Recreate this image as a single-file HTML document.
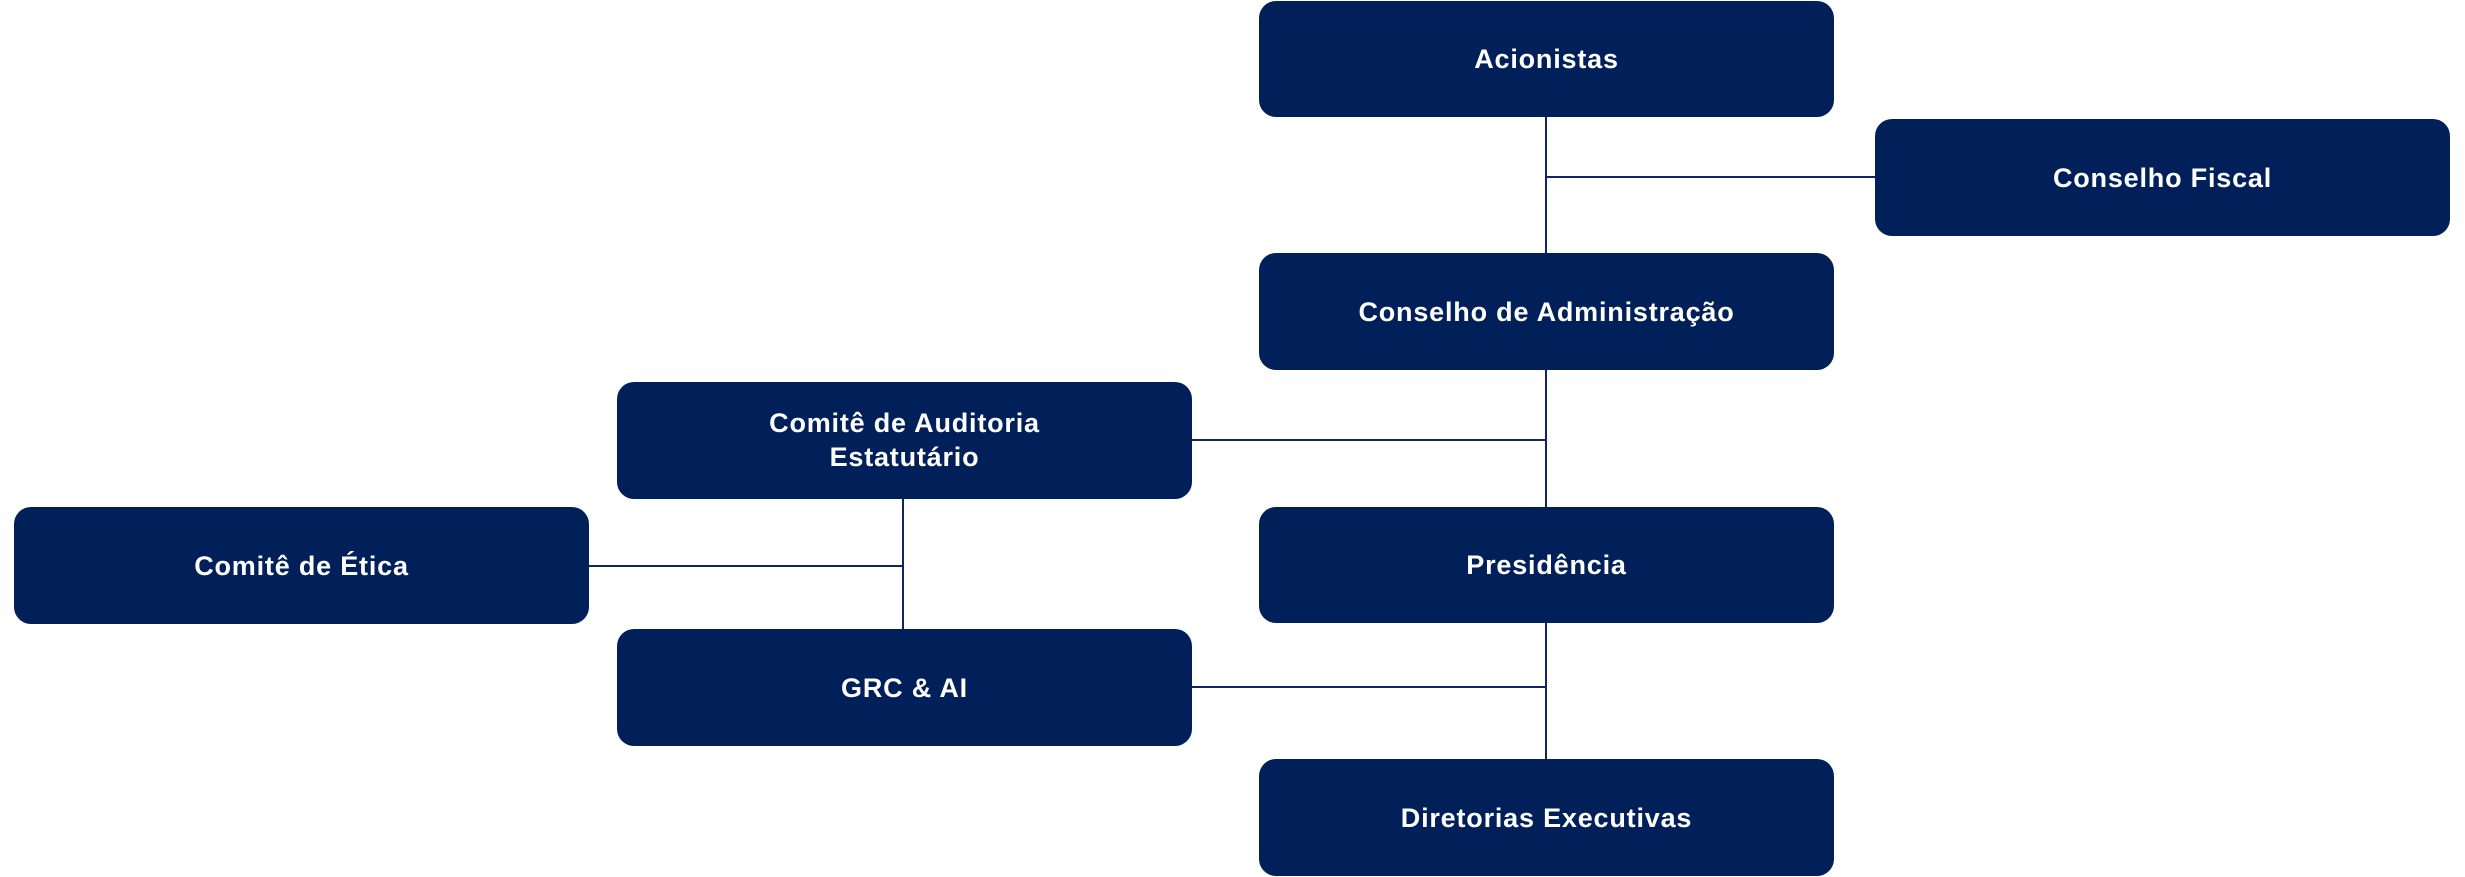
<!DOCTYPE html>
<html>
<head>
<meta charset="utf-8">
<style>
  html, body { margin:0; padding:0; background:#ffffff; }
  body { width:2465px; height:877px; position:relative; overflow:hidden; }
  .box {
    position:absolute; width:575px; height:117px;
    background:#012059; border-radius:17px;
    display:flex; align-items:center; justify-content:center; text-align:center;
    color:#ffffff; font-family:"Liberation Sans", sans-serif; font-weight:bold;
    font-size:27px; letter-spacing:0.8px; line-height:34px;
  }
  .ln { position:absolute; background:#0f2660; }
</style>
</head>
<body>
  <!-- connectors -->
  <div class="ln" style="left:1545px; top:100px; width:2px; height:670px;"></div>
  <div class="ln" style="left:1546px; top:176px; width:330px; height:2px;"></div>
  <div class="ln" style="left:1190px; top:439px; width:357px; height:2px;"></div>
  <div class="ln" style="left:1190px; top:686px; width:357px; height:2px;"></div>
  <div class="ln" style="left:902px; top:495px; width:2px; height:140px;"></div>
  <div class="ln" style="left:585px; top:565px; width:319px; height:2px;"></div>

  <!-- boxes -->
  <div class="box" style="left:1259px; top:1px; height:116px;">Acionistas</div>
  <div class="box" style="left:1875px; top:119px;">Conselho Fiscal</div>
  <div class="box" style="left:1259px; top:253px;">Conselho de Administração</div>
  <div class="box" style="left:617px; top:382px; padding-bottom:2px; box-sizing:border-box;">Comitê de Auditoria<br>Estatutário</div>
  <div class="box" style="left:14px; top:507px;">Comitê de Ética</div>
  <div class="box" style="left:1259px; top:507px; height:116px;">Presidência</div>
  <div class="box" style="left:617px; top:629px;">GRC &amp; AI</div>
  <div class="box" style="left:1259px; top:759px;">Diretorias Executivas</div>
</body>
</html>
